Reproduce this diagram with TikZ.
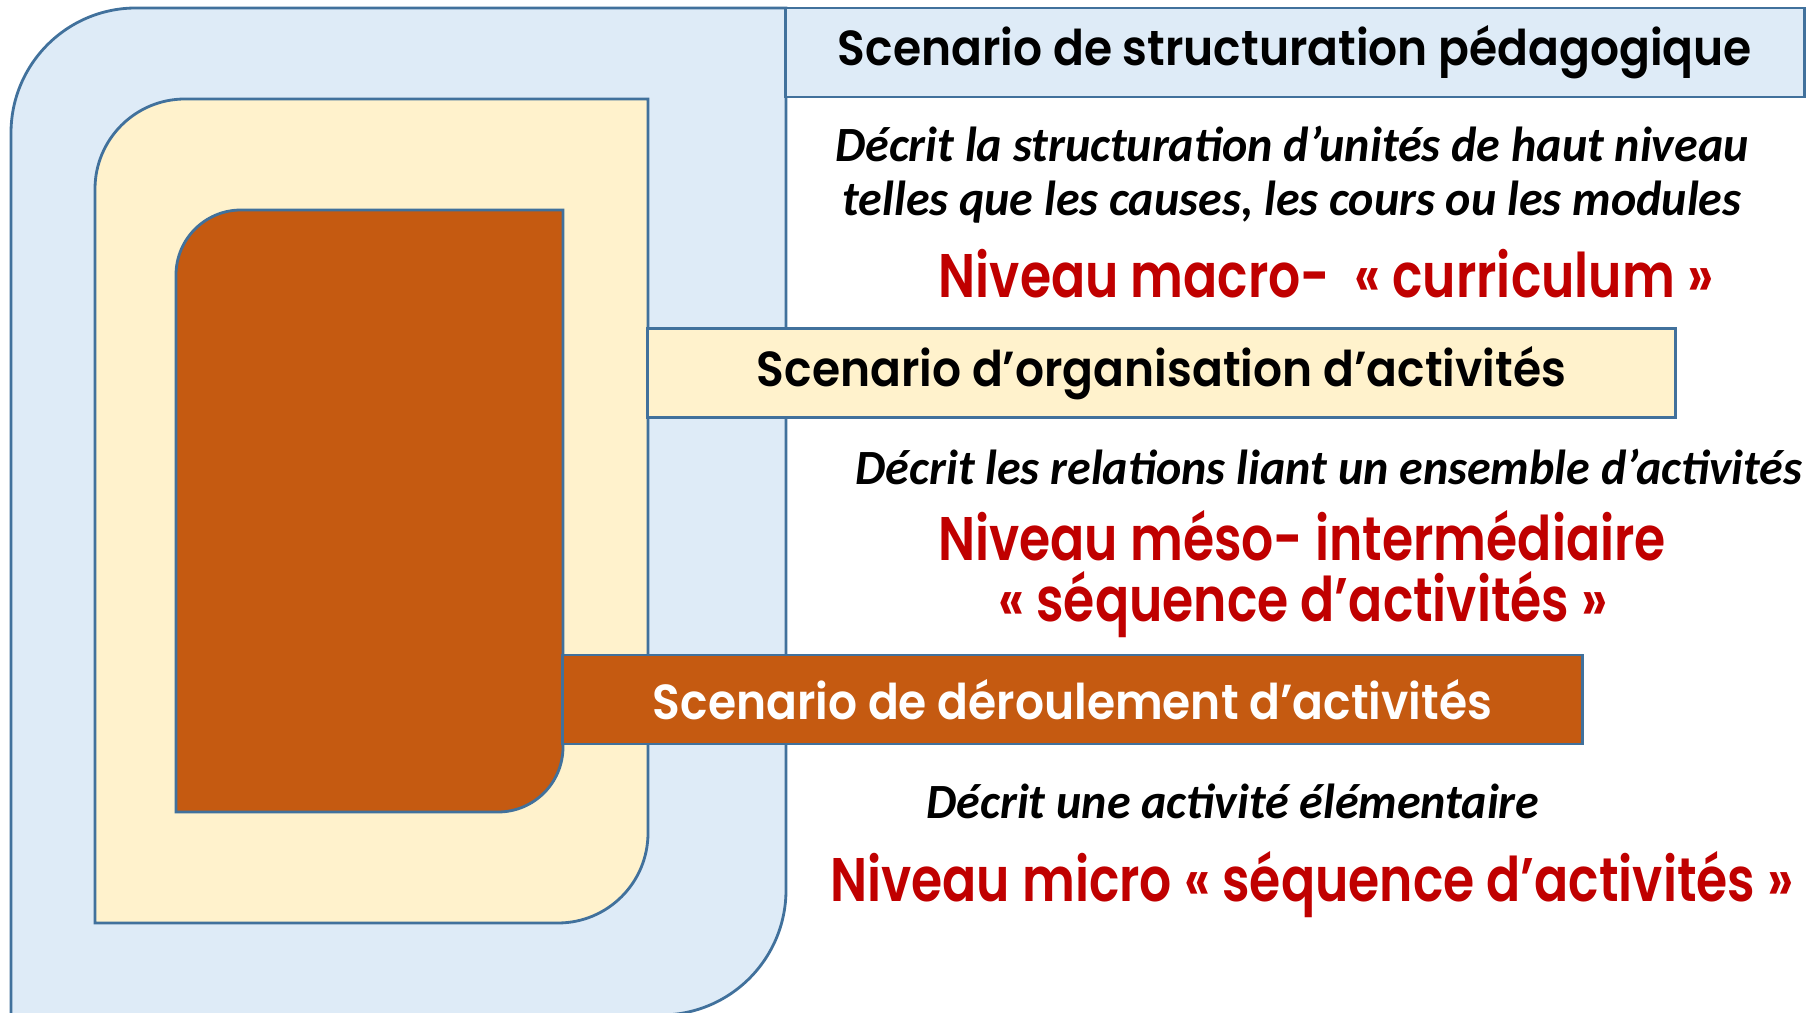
\documentclass[tikz,border=0pt]{standalone}
\usepackage{fontspec}
\setmainfont{Carlito}
\newfontfamily\gothic{Poppins}[BoldFont={Poppins SemiBold},FakeStretch=0.925]
\newfontfamily\gothicnarrow{Poppins}[BoldFont={Poppins SemiBold},FakeStretch=0.82]
\newfontfamily\calib{Carlito}[FakeStretch=0.975]
\usetikzlibrary{positioning}

\definecolor{frameblue}{HTML}{41719C}
\definecolor{paleblue}{HTML}{DEEBF7}
\definecolor{palecream}{HTML}{FFF2CC}
\definecolor{rust}{HTML}{C55A11}
\definecolor{darkred}{HTML}{C00000}

\begin{document}
\begin{tikzpicture}[x=0.01cm,y=0.01cm,
    frame/.style={draw=frameblue,line width=0.8pt},
    title/.style={frame,inner sep=0pt,outer sep=0pt,minimum height=0.89cm,font=\gothic\bfseries\fontsize{14}{16}\selectfont},
    desc/.style={font=\calib\bfseries\itshape\fontsize{14}{17}\selectfont},
    level/.style={text=darkred,font=\gothicnarrow\bfseries\fontsize{17.5}{20}\selectfont}]
  \useasboundingbox (0,0) rectangle (1812,1012);
  % nested frames
  \draw[frame,fill=paleblue] (11,-3) -- (11,879) arc[start angle=180,end angle=90,radius=125]
    -- (786,1004) -- (786,122) arc[start angle=0,end angle=-90,radius=125] -- cycle;
  \node[title,fill=paleblue,minimum width=10.18cm] (struct) at (1295,959.5) {Scenario de structuration pédagogique};
  \draw[frame,fill=palecream] (95,89) -- (95,823) arc[start angle=180,end angle=90,radius=90]
    -- (648,913) -- (648,179) arc[start angle=0,end angle=-90,radius=90] -- cycle;
  \node[title,fill=palecream,minimum width=10.27cm] (orga) at (1161.5,639) {Scenario d’organisation d’activités};
  \draw[frame,fill=rust] (176,200) -- (176,737) arc[start angle=180,end angle=90,radius=65]
    -- (563,802) -- (563,265) arc[start angle=0,end angle=-90,radius=65] -- cycle;
  \node[title,fill=rust,text=white,minimum width=10.19cm] (deroul) at (1072.5,312.5) {Scenario de déroulement d’activités};
  % texts
  \node[desc] (macrodesca) at (1292,868) {Décrit la structuration d’unités de haut niveau};
  \node[desc] (macrodescb) at (1292,810) {telles que les causes, les cours ou les modules};
  \node[level] (macro) at (1326,738) {Niveau macro-\ \ « curriculum »};
  \node[desc] (mesodesc) at (1329,545) {Décrit les relations liant un ensemble d’activités};
  \node[level] (mesoa) at (1302,476) {Niveau méso- intermédiaire};
  \node[level] (mesob) at (1303,407) {« séquence d’activités »};
  \node[desc] (microdesc) at (1233,211) {Décrit une activité élémentaire};
  \node[level] (micro) at (1312,127) {Niveau micro « séquence d’activités »};
\end{tikzpicture}
\end{document}
